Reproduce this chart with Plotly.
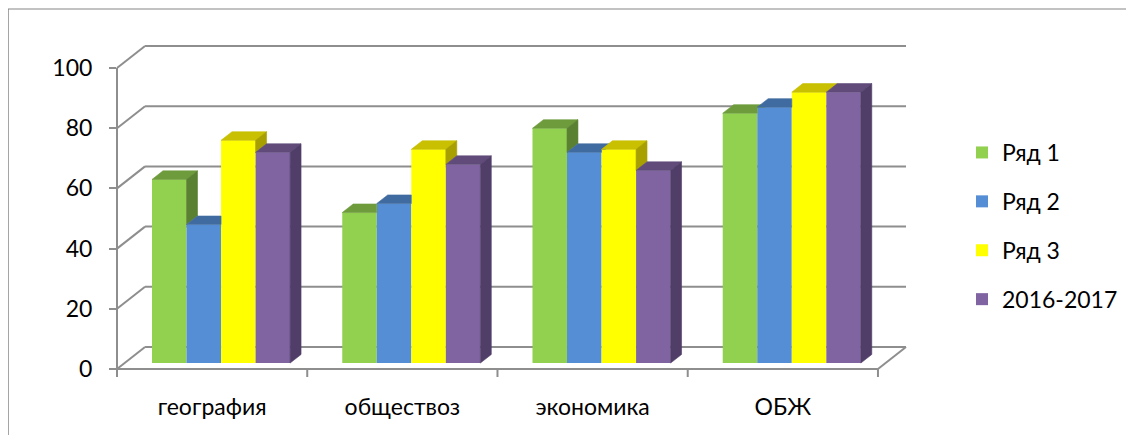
import plotly.graph_objects as go

# ---------------- data ----------------
categories = ["география", "обществоз", "экономика", "ОБЖ"]
series_names = ["Ряд 1", "Ряд 2", "Ряд 3", "2016-2017"]
ryad1 = [61, 50, 78, 83]
ryad2 = [46, 53, 70, 85]
ryad3 = [74, 71, 71, 90]
y2016_2017 = [70, 66, 64, 90]
y_ticks = [0, 20, 40, 60, 80, 100]

series_values = [ryad1, ryad2, ryad3, y2016_2017]

# ---------------- style ----------------
front_colors = ["#92D050", "#558ED5", "#FFFF00", "#8064A2"]
top_colors = ["#6E9C3C", "#406BA0", "#C8C000", "#604B7A"]
side_colors = ["#5A8031", "#345888", "#A8A000", "#503E68"]
grid_color = "#8E8E8E"
FONT = "Lato, Roboto, sans-serif"
FS = 23

# page body has an 8px margin, so figure coords = window coords - 8
W, H = 1126, 427
ML, MR, MT, MB = 109, 227, 38, 66
N = len(categories)
S = len(series_names)

# pseudo-3D geometry (in axis units)
DXB = 28 / 190.0          # back-wall horizontal offset
DYB = 22 / 3.01           # back-wall vertical offset
XMAX = N + DXB
YMAX = max(y_ticks) + DYB
F0, F1 = 0.27, 0.66       # bar depth (front / back) as fraction of floor depth
BASE = DYB * F0
DX = DXB * (F1 - F0)
DY = DYB * (F1 - F0)
BAR_SHIFT = 0.047
GROUP_W = 0.726
BW = GROUP_W / S

pw, ph = W - ML - MR, H - MT - MB


def px(x):
    return x / XMAX


def py(y):
    return y / YMAX


fig = go.Figure()

# front faces (bars)
bar_x = []
for k in range(S):
    xs = [i + 0.5 + BAR_SHIFT + (k - (S - 1) / 2) * BW for i in range(N)]
    bar_x.append(xs)
    fig.add_trace(go.Bar(
        x=xs, y=series_values[k], base=BASE, width=BW,
        name=series_names[k], legendgroup=series_names[k],
        marker=dict(color=front_colors[k], line=dict(width=0)),
        hoverinfo="skip",
    ))


def top_face(x0, x1, t, t_next):
    if t_next is None or t_next <= t:
        return [(x0, t), (x0 + DX, t + DY), (x1 + DX, t + DY), (x1, t)]
    if t_next >= t + DY:
        return [(x0, t), (x0 + DX, t + DY), (x1, t + DY), (x1, t)]
    xm = x1 + (t_next - t) / DY * DX
    return [(x0, t), (x0 + DX, t + DY), (x1 + DX, t + DY), (xm, t_next), (x1, t_next), (x1, t)]


def side_face(x1, t, bottom):
    if bottom >= t:
        return None
    return [(x1, bottom), (x1, t), (x1 + DX, t + DY), (x1 + DX, bottom + DY)]


for k in range(S):
    tx, ty, sx, sy = [], [], [], []
    for i in range(N):
        xc = bar_x[k][i]
        x0, x1 = xc - BW / 2, xc + BW / 2
        t = BASE + series_values[k][i]
        t_next = BASE + series_values[k + 1][i] if k < S - 1 else None
        poly = top_face(x0, x1, t, t_next)
        tx += [p[0] for p in poly] + [poly[0][0], None]
        ty += [p[1] for p in poly] + [poly[0][1], None]
        bottom = t_next if t_next is not None else BASE
        sp = side_face(x1, t, bottom)
        if sp:
            sx += [p[0] for p in sp] + [sp[0][0], None]
            sy += [p[1] for p in sp] + [sp[0][1], None]
    fig.add_trace(go.Scatter(x=tx, y=ty, mode="lines", fill="toself",
                             fillcolor=top_colors[k],
                             line=dict(width=0.6, color=top_colors[k]),
                             showlegend=False, hoverinfo="skip"))
    if sx:
        fig.add_trace(go.Scatter(x=sx, y=sy, mode="lines", fill="toself",
                                 fillcolor=side_colors[k],
                                 line=dict(width=0.6, color=side_colors[k]),
                                 showlegend=False, hoverinfo="skip"))

# walls / floor grid as shapes
shapes = []


def seg(xa, ya, xb, yb, w=2):
    shapes.append(dict(type="line", xref="paper", yref="paper", layer="below",
                       x0=px(xa), y0=py(ya), x1=px(xb), y1=py(yb),
                       line=dict(color=grid_color, width=w)))


for v in y_ticks:
    seg(0, v, DXB, v + DYB)
    seg(DXB, v + DYB, XMAX, v + DYB)
seg(0, 0, 0, max(y_ticks))          # front vertical axis
seg(0, 0, N, 0)                     # front floor edge
seg(N, 0, N + DXB, DYB)             # right floor edge
for i in range(N + 1):               # category ticks
    shapes.append(dict(type="line", xref="paper", yref="paper", layer="below",
                       x0=px(i), x1=px(i), y0=0, y1=-8 / ph,
                       line=dict(color=grid_color, width=2)))

# outer chart border (extends beyond the view on right / bottom)
shapes.append(dict(type="rect", xref="paper", yref="paper", layer="below",
                   x0=(0 - ML) / pw, x1=(W + 20 - ML) / pw,
                   y0=(H - MB - (H + 20)) / ph, y1=(H - MB - 1) / ph,
                   line=dict(color="#868686", width=1.2), fillcolor="rgba(0,0,0,0)"))

fig.update_layout(
    width=W, height=H,
    margin=dict(l=ML, r=MR, t=MT, b=MB, pad=0),
    paper_bgcolor="white", plot_bgcolor="rgba(0,0,0,0)",
    barmode="overlay",
    font=dict(family=FONT, size=FS, color="#000000"),
    shapes=shapes,
    showlegend=True,
    legend=dict(x=(954 - ML) / pw, xanchor="left",
                y=(H - MB - 123) / ph, yanchor="top",
                font=dict(family=FONT, size=FS, color="#000000"),
                tracegroupgap=16, bgcolor="rgba(0,0,0,0)"),
    xaxis=dict(range=[0, XMAX], showgrid=False, zeroline=False, showline=False,
               tickmode="array", tickvals=[i + 0.5 for i in range(N)],
               ticktext=categories, ticks="", ticklabelstandoff=22,
               tickfont=dict(family=FONT, size=FS, color="#000000"),
               fixedrange=True),
    yaxis=dict(range=[0, YMAX], showgrid=False, zeroline=False, showline=False,
               tickmode="array", tickvals=y_ticks, ticks="outside", ticklen=7,
               tickwidth=2, tickcolor=grid_color, ticklabelstandoff=12,
               tickfont=dict(family=FONT, size=FS, color="#000000"),
               fixedrange=True),
)

fig.write_html("out.html")
